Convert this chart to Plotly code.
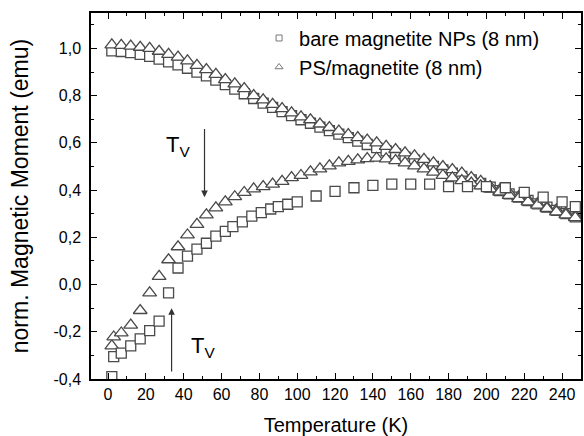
import plotly.graph_objects as go

# ---- data ----
T_fc = [2, 7, 12, 17, 22, 27, 32, 37, 42, 47, 52, 57, 62, 67, 72, 77, 82, 87, 92, 97,
        102, 107, 112, 117, 122, 127, 132, 137, 142, 147, 152, 157, 162, 167, 172, 177,
        182, 187, 192, 197, 202, 207, 212, 217, 222, 227, 232, 237, 242, 247]

bare_fc = [0.99, 0.987, 0.982, 0.975, 0.966, 0.955, 0.943, 0.93, 0.916, 0.9,
           0.884, 0.866, 0.847, 0.828, 0.808, 0.788, 0.768, 0.75, 0.732, 0.715,
           0.698, 0.683, 0.667, 0.652, 0.637, 0.622, 0.607, 0.593, 0.58, 0.566,
           0.553, 0.54, 0.527, 0.513, 0.5, 0.486, 0.472, 0.458, 0.443, 0.428,
           0.413, 0.398, 0.384, 0.37, 0.356, 0.342, 0.328, 0.314, 0.3, 0.287]

ps_fc = [1.015, 1.013, 1.01, 1.005, 1.0, 0.988, 0.975, 0.963, 0.947, 0.928,
         0.91, 0.89, 0.868, 0.85, 0.83, 0.80, 0.782, 0.763, 0.745, 0.727,
         0.71, 0.698, 0.68, 0.665, 0.65, 0.635, 0.622, 0.612, 0.6, 0.585,
         0.572, 0.558, 0.545, 0.53, 0.515, 0.50, 0.487, 0.472, 0.453, 0.437,
         0.415, 0.40, 0.388, 0.372, 0.358, 0.343, 0.327, 0.316, 0.303, 0.29]

T_ps_zfc = [2, 3, 7, 12, 17, 22, 27, 32, 37, 42, 47, 52, 57, 62, 67, 72, 77, 82, 87, 92, 97,
            102, 107, 112, 117, 122, 127, 132, 137, 142, 147, 152, 157, 162, 167, 172, 177,
            182, 187, 192, 197, 202, 207, 212, 217, 222, 227, 232, 237, 242, 247]
ps_zfc = [-0.26, -0.222, -0.205, -0.172, -0.11, -0.035, 0.035, 0.105, 0.16, 0.21,
          0.255, 0.295, 0.325, 0.35, 0.372, 0.39, 0.405, 0.415, 0.425, 0.437, 0.453,
          0.462, 0.477, 0.49, 0.503, 0.515, 0.522, 0.528, 0.533, 0.535, 0.532,
          0.525, 0.515, 0.503, 0.49, 0.476, 0.462, 0.452, 0.44, 0.43, 0.418,
          0.405, 0.392, 0.378, 0.364, 0.35, 0.336, 0.322, 0.308, 0.295, 0.283]

T_bare_zfc = [2, 3, 7, 12, 17, 22, 27, 32, 37, 42, 47, 52, 57, 62, 66, 71, 76, 81, 86, 90,
              95, 100, 110, 120, 130, 140, 150, 160, 170, 180, 190, 200, 210, 220, 230,
              240, 247]
bare_zfc = [-0.39, -0.305, -0.29, -0.26, -0.23, -0.195, -0.155, -0.035, 0.07, 0.12,
            0.15, 0.175, 0.205, 0.225, 0.245, 0.265, 0.29, 0.305, 0.32, 0.33,
            0.34, 0.35, 0.375, 0.395, 0.41, 0.42, 0.425, 0.425, 0.425, 0.415,
            0.415, 0.415, 0.41, 0.39, 0.37, 0.35, 0.33]

series_names = ["bare magnetite NPs (8 nm)", "PS/magnetite (8 nm)"]

x_tick_vals = [0, 20, 40, 60, 80, 100, 120, 140, 160, 180, 200, 220, 240]
y_tick_vals = [-0.4, -0.2, 0.0, 0.2, 0.4, 0.6, 0.8, 1.0]
y_tick_text = ["-0,4", "-0,2", "0,0", "0,2", "0,4", "0,6", "0,8", "1,0"]

# T_V arrow annotations: (T, start value, end value)
tv_upper = (51, 0.665, 0.37)
tv_lower = (33.6, -0.375, -0.1)
tv_upper_label = (37, 0.585)
tv_lower_label = (50, -0.265)

FONT = "Liberation Sans, Arial, Helvetica, sans-serif"
EDGE = "#4a4a4a"

sq = dict(symbol="square", size=10, color="white", line=dict(color=EDGE, width=1.3))
tri = dict(symbol="triangle-up", size=12, color="white", line=dict(color=EDGE, width=1.3))

fig = go.Figure()
fig.add_trace(go.Scatter(x=T_fc, y=bare_fc, mode="markers", marker=sq, showlegend=False))
fig.add_trace(go.Scatter(x=T_fc + T_ps_zfc, y=ps_fc + ps_zfc, mode="markers",
                         marker=tri, showlegend=False))
fig.add_trace(go.Scatter(x=T_bare_zfc, y=bare_zfc, mode="markers", marker=sq,
                         showlegend=False))

# legend entries with small symbols
fig.add_trace(go.Scatter(x=[None], y=[None], mode="markers", name=series_names[0],
                         marker=dict(symbol="square", size=6, color="white",
                                     line=dict(color="#777", width=1))))
fig.add_trace(go.Scatter(x=[None], y=[None], mode="markers", name=series_names[1],
                         marker=dict(symbol="triangle-up", size=7, color="white",
                                     line=dict(color="#777", width=1))))

for (t, y0, y1) in (tv_upper, tv_lower):
    fig.add_annotation(x=t, y=y1, ax=t, ay=y0, xref="x", yref="y", axref="x", ayref="y",
                       showarrow=True, arrowhead=2, arrowsize=1.1, arrowwidth=1.2,
                       arrowcolor="#333", text="")
for (t, v) in (tv_upper_label, tv_lower_label):
    fig.add_annotation(x=t, y=v, xref="x", yref="y", showarrow=False,
                       text="T<sub>V</sub>", font=dict(family=FONT, size=22, color="black"))

axis_common = dict(showline=True, linecolor="black", linewidth=1.5, mirror="ticks",
                   ticks="inside", ticklen=6, tickwidth=1.2, tickcolor="black",
                   showgrid=False, zeroline=False,
                   tickfont=dict(family=FONT, size=16, color="black"))

fig.update_xaxes(range=[-9, 250], tickvals=x_tick_vals,
                 minor=dict(dtick=10, ticks="inside", ticklen=3, tickcolor="black",
                            tickwidth=1.2, showgrid=False),
                 title=dict(text="Temperature (K)", font=dict(family=FONT, size=20, color="black"),
                            standoff=17),
                 **axis_common)
fig.update_yaxes(range=[-0.4, 1.15], tickvals=y_tick_vals, ticktext=y_tick_text,
                 ticklabelstandoff=5,
                 minor=dict(dtick=0.1, tick0=0, ticks="inside", ticklen=3, tickcolor="black",
                            tickwidth=1.2, showgrid=False),
                 title=dict(text="norm. Magnetic Moment (emu)",
                            font=dict(family=FONT, size=23, color="black"), standoff=18),
                 **axis_common)

fig.update_layout(
    width=584, height=436,
    margin=dict(l=91, r=1, t=13, b=57),
    paper_bgcolor="white", plot_bgcolor="white",
    font=dict(family=FONT, color="black"),
    legend=dict(x=0.343, y=0.985, xanchor="left", yanchor="top",
                bgcolor="rgba(0,0,0,0)", font=dict(family=FONT, size=20, color="black"),
                itemwidth=30, tracegroupgap=0),
)

fig.write_html("out.html")
